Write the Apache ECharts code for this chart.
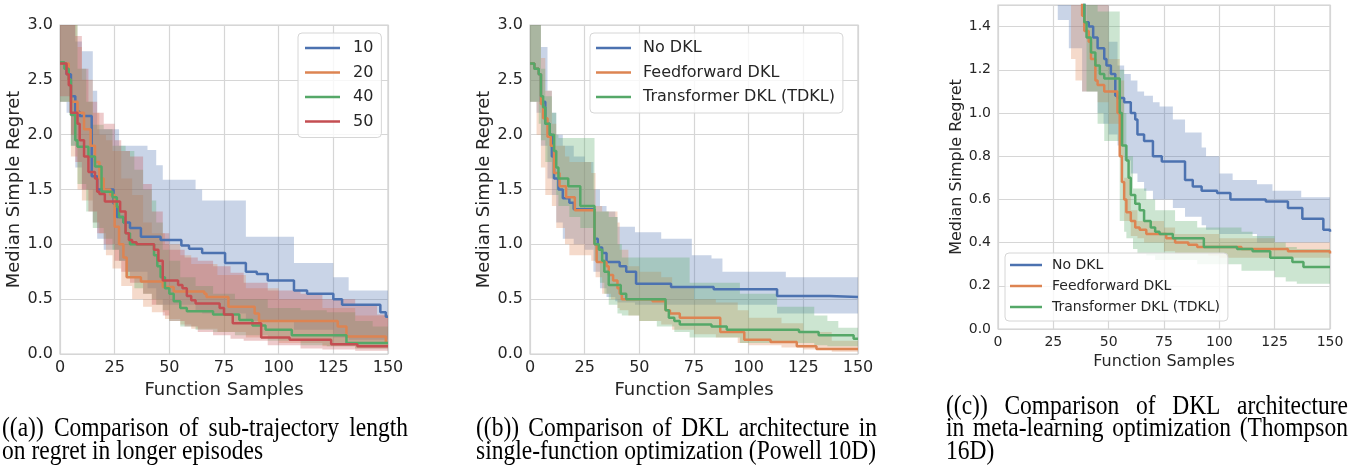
<!DOCTYPE html>
<html>
<head>
<meta charset="utf-8">
<script src="https://cdn.jsdelivr.net/npm/echarts@6/dist/echarts.min.js"></script>
<style>
html, body { margin: 0; padding: 0; background: #fff; }
#chart { width: 1356px; height: 466px; }
</style>
</head>
<body>
<div id="chart"></div>
<script>
// x ticks shared by every panel
var x_ticks = [0, 25, 50, 75, 100, 125, 150];

// ---- panel (a): sub-trajectory length ----
var a_names = ['10', '20', '40', '50'];
// [x, median] steps (value holds until next x)
var a_10_line = [[0,2.65],[3,2.55],[5,2.35],[7,2.21],[9,2.17],[14.5,1.62],[17,1.5],[24.5,1.37],[26,1.25],[29,1.2],[32,1.15],[37,1.07],[46,1.04],[55.5,0.99],[59,0.96],[65,0.92],[75.5,0.83],[85,0.75],[90,0.73],[95,0.67],[107,0.58],[113,0.55],[125,0.5],[129,0.45],[146.5,0.38],[149,0.34],[150,0.34]];
var a_20_line = [[0,2.65],[4,2.5],[5,2.3],[8,2.2],[11,2.05],[14,1.9],[16,1.75],[18,1.6],[20,1.5],[23,1.45],[25,1.16],[27,1.0],[29,0.88],[30.5,0.7],[37,0.66],[47,0.61],[52,0.57],[66,0.55],[67,0.52],[77,0.43],[89,0.37],[91,0.3],[127,0.25],[131,0.16],[149,0.1],[150,0.1]];
var a_40_line = [[0,2.66],[2,2.6],[4,2.5],[5,2.18],[7,1.95],[8,1.89],[13,1.8],[16,1.71],[19,1.48],[24,1.43],[26,1.34],[27,1.25],[29,1.2],[30,1.1],[32,1.0],[43,0.9],[44.5,0.8],[46,0.7],[48,0.6],[50,0.55],[52,0.48],[55,0.42],[58,0.39],[70,0.36],[82,0.31],[88,0.26],[94,0.22],[106,0.17],[131,0.1],[150,0.1]];
var a_50_line = [[0,2.65],[3,2.55],[4,2.45],[5,2.2],[8,2.1],[9,1.95],[11,1.8],[13,1.66],[16,1.6],[17,1.48],[18,1.46],[20.5,1.39],[27.5,1.3],[30,1.1],[31.5,1.04],[33,1.02],[35,1.0],[43,0.95],[45,0.85],[47,0.67],[54,0.63],[56,0.6],[58,0.53],[60,0.49],[62,0.46],[73,0.42],[75,0.36],[79,0.28],[92,0.15],[105,0.13],[124,0.09],[136,0.07],[150,0.07]];
// [x, lower, upper]
var a_10_band = [[0,2.3,3.3],[3,2.2,3.3],[5,1.9,3.1],[7,1.7,2.85],[10,1.5,2.76],[15,1.2,2.4],[17,1.05,2.05],[20,0.95,2.05],[27,0.85,1.9],[30,0.75,1.9],[40,0.6,1.86],[44,0.5,1.72],[47,0.45,1.59],[62,0.4,1.5],[65,0.37,1.4],[85,0.3,1.07],[107,0.22,0.83],[125,0.15,0.7],[132,0.13,0.58],[150,0.12,0.58]];
var a_20_band = [[0,2.3,3.3],[5,1.8,3.1],[8,1.5,2.8],[10,1.4,2.5],[15,1.2,2.2],[18,1.1,2.0],[21,0.9,1.95],[24,0.78,1.85],[28,0.62,1.6],[33,0.5,1.45],[38,0.43,1.2],[42,0.38,1.1],[48,0.32,1.0],[55,0.27,0.9],[60,0.23,0.82],[72,0.2,0.72],[85,0.15,0.6],[100,0.1,0.5],[120,0.07,0.42],[135,0.05,0.35],[150,0.05,0.3]];
var a_40_band = [[0,2.3,3.3],[5,1.9,3.0],[8,1.55,2.6],[12,1.3,2.3],[15,1.15,2.09],[20,1.05,2.05],[24,0.95,1.9],[27,0.85,1.9],[30,0.7,1.85],[34,0.6,1.68],[38,0.55,1.5],[42,0.5,1.4],[44,0.45,1.2],[47,0.4,0.95],[50,0.3,0.85],[55,0.25,0.7],[62,0.22,0.62],[70,0.2,0.55],[80,0.17,0.5],[95,0.12,0.42],[110,0.08,0.4],[122,0.07,0.38],[135,0.05,0.3],[143,0.05,0.25],[150,0.05,0.25]];
var a_50_band = [[0,2.35,3.3],[5,2.0,3.2],[7,1.75,2.9],[10,1.5,2.6],[13,1.3,2.3],[17,1.1,2.2],[20,1.0,2.1],[25,0.85,1.95],[28,0.75,1.85],[32,0.65,1.8],[38,0.55,1.55],[42,0.45,1.3],[47,0.35,1.1],[50,0.3,0.95],[57,0.25,0.88],[63,0.2,0.85],[70,0.17,0.8],[78,0.14,0.74],[84,0.12,0.65],[95,0.08,0.58],[110,0.05,0.55],[120,0.04,0.5],[135,0.03,0.45],[145,0.03,0.36],[150,0.03,0.36]];

// ---- panel (b): single-function optimization ----
var dkl_names = ['No DKL', 'Feedforward DKL', 'Transformer DKL (TDKL)'];
var b_no_line = [[0,2.65],[2,2.6],[4,2.55],[5,2.3],[7,2.1],[9,2.0],[10,1.8],[11,1.6],[13,1.5],[15,1.42],[18,1.38],[20,1.32],[29.5,1.05],[31,0.97],[33,0.92],[35,0.84],[41,0.8],[44,0.75],[48.5,0.64],[64.5,0.61],[84,0.59],[113,0.53],[137,0.52],[150,0.52]];
var b_ff_line = [[0,2.65],[2,2.6],[4,2.55],[5,2.28],[6,2.15],[8,1.98],[9.5,1.9],[11,1.65],[13.5,1.53],[16.5,1.43],[20.5,1.31],[29.5,1.0],[30.5,0.84],[35,0.8],[36,0.72],[38,0.67],[40,0.6],[41,0.55],[42,0.5],[56,0.48],[62,0.4],[64,0.37],[68.5,0.33],[87,0.2],[98,0.13],[110,0.11],[122,0.07],[131,0.045],[150,0.04]];
var b_td_line = [[0,2.65],[2,2.6],[4,2.55],[5,2.35],[6,2.25],[7,2.1],[9,2.0],[11,1.85],[12,1.7],[13,1.6],[17.5,1.53],[23,1.35],[29.5,1.0],[31.5,0.95],[33,0.85],[34,0.75],[36,0.63],[41.5,0.55],[44,0.5],[62,0.4],[63.5,0.33],[66,0.3],[68.5,0.27],[83,0.25],[90,0.22],[123,0.2],[132,0.17],[148,0.14],[150,0.14]];
var b_no_band = [[0,2.3,3.3],[3,2.2,3.2],[5,1.9,2.8],[8,1.6,2.4],[10,1.45,2.2],[12,1.2,2.0],[15,1.05,1.9],[20,1.0,1.8],[25,0.95,1.75],[29,0.75,1.5],[32,0.6,1.35],[35,0.52,1.3],[39,0.48,1.25],[40,0.47,1.16],[48,0.45,1.11],[60,0.45,1.05],[74,0.45,0.9],[83,0.45,0.87],[88,0.45,0.75],[113,0.37,0.75],[117,0.37,0.7],[150,0.37,0.7]];
var b_ff_band = [[0,2.3,3.3],[3,2.0,3.1],[5,1.7,2.7],[7,1.45,2.4],[10,1.35,2.1],[12,1.15,1.9],[16,1.0,1.8],[18,0.9,1.75],[28,0.85,1.65],[30,0.7,1.35],[33,0.55,1.3],[37,0.5,1.3],[40,0.42,1.2],[41,0.4,0.95],[45,0.35,0.8],[50,0.3,0.75],[60,0.27,0.7],[65,0.22,0.6],[75,0.18,0.5],[85,0.15,0.47],[95,0.1,0.4],[100,0.08,0.33],[115,0.06,0.28],[125,0.04,0.2],[138,0.02,0.12],[150,0.02,0.1]];
var b_td_band = [[0,2.3,3.3],[4,2.1,3.1],[5,1.95,2.6],[7,1.75,2.35],[10,1.6,2.2],[12,1.45,2.0],[13,1.35,1.97],[18,1.25,1.97],[23,1.15,1.97],[29.5,0.85,1.3],[32,0.65,1.3],[34,0.55,1.3],[36,0.45,1.25],[40,0.37,1.0],[42,0.35,0.88],[50,0.3,0.88],[58,0.25,0.88],[66,0.2,0.88],[73,0.15,0.65],[96,0.1,0.55],[113,0.1,0.43],[130,0.08,0.35],[136,0.07,0.3],[141,0.07,0.24],[150,0.07,0.24]];

// ---- panel (c): meta-learning optimization ----
var c_no_line = [[0,2.65],[15,2.2],[30,1.8],[36,1.55],[39,1.42],[41,1.4],[43,1.35],[45,1.3],[48,1.25],[49,1.22],[51,1.18],[53,1.08],[54,1.07],[57,1.05],[60,1.0],[62,0.97],[63,0.9],[66,0.87],[70,0.8],[74,0.775],[84.5,0.69],[88,0.66],[92,0.64],[99,0.63],[105,0.6],[121,0.59],[131,0.56],[137.5,0.51],[147,0.46],[150,0.45]];
var c_ff_line = [[0,2.65],[15,2.2],[30,1.8],[36,1.6],[38,1.45],[39,1.38],[41,1.33],[42,1.25],[44,1.15],[45,1.13],[48,1.1],[54,1.0],[55,0.8],[56,0.68],[57,0.6],[58,0.54],[60,0.5],[62,0.47],[64,0.46],[67,0.44],[76,0.42],[80,0.4],[86,0.39],[90,0.38],[110,0.37],[131,0.36],[150,0.35]];
var c_td_line = [[0,2.65],[15,2.2],[30,1.8],[37,1.55],[39,1.42],[40,1.35],[42,1.28],[44,1.22],[46,1.18],[48,1.16],[55,1.0],[56,0.85],[58,0.78],[59,0.7],[60,0.62],[62,0.58],[64,0.55],[66,0.5],[69,0.47],[71,0.45],[73,0.44],[79,0.42],[93,0.38],[108,0.37],[115,0.36],[123,0.33],[133,0.31],[138,0.287],[150,0.287]];
var c_no_band = [[0,2.3,3],[27,1.43,3],[32,1.3,3],[38,1.1,3],[45,1.0,3],[47.7,0.95,1.5],[50,0.9,1.33],[54,0.85,1.22],[57,0.78,1.18],[60,0.72,1.15],[63,0.68,1.1],[66,0.64,1.08],[70,0.6,1.05],[73,0.6,1.03],[79,0.56,0.97],[84.5,0.52,0.91],[92,0.48,0.84],[94,0.46,0.8],[100,0.44,0.72],[106,0.44,0.69],[117,0.4,0.67],[124,0.4,0.64],[137,0.4,0.61],[150,0.4,0.61]];
var c_ff_band = [[0,2.3,3],[30,1.5,3],[33,1.25,3],[35,1.15,3],[38,1.1,1.5],[45,1.05,1.5],[50,0.95,1.25],[55,0.8,1.15],[57,0.5,0.7],[60,0.43,0.55],[63,0.42,0.5],[66,0.4,0.5],[75,0.36,0.47],[80,0.35,0.44],[95,0.34,0.44],[100,0.33,0.42],[125,0.33,0.4],[150,0.32,0.4]];
var c_td_band = [[0,2.3,3],[35,1.5,3],[40,1.1,3],[45,0.95,1.47],[48,0.87,1.47],[55,0.5,1.2],[57,0.45,1.0],[58,0.42,0.8],[61,0.37,0.65],[63,0.35,0.65],[67,0.34,0.6],[71,0.32,0.55],[80,0.32,0.5],[90,0.3,0.47],[100,0.3,0.47],[110,0.27,0.45],[115,0.27,0.43],[125,0.24,0.4],[130,0.22,0.38],[135,0.21,0.37],[150,0.21,0.37]];

var captions = [
    { x: 2, width: 406, lines: ['((a)) Comparison of sub-trajectory length', 'on regret in longer episodes'], first: 443 },
    { x: 476, width: 401, lines: ['((b)) Comparison of DKL architecture in', 'single-function optimization (Powell 10D)'], first: 443 },
    { x: 946, width: 402, lines: ['((c)) Comparison of DKL architecture', 'in meta-learning optimization (Thompson', '16D)'], first: 420.5 }
];

var colors = ['#4c72b0', '#dd8452', '#55a868', '#c44e52'];
var ink = '#262626';
var font = 'DejaVu Sans';

function band_series(name, data, color, idx, ymax)
{
    return {
        type: 'custom',
        name: name,
        xAxisIndex: idx,
        yAxisIndex: idx,
        silent: true,
        clip: true,
        z: 1,
        data: [[data[0][0], Math.min(data[0][1], ymax)]],
        renderItem: function (params, api) {
            var top = [], bottom = [];
            for (var i = 0; i < data.length; i++) {
                var x0 = data[i][0];
                var x1 = i + 1 < data.length ? data[i + 1][0] : data[i][0];
                var lo = Math.min(data[i][1], ymax);
                var hi = Math.min(data[i][2], ymax);
                top.push(api.coord([x0, hi]), api.coord([x1, hi]));
                bottom.push(api.coord([x0, lo]), api.coord([x1, lo]));
            }
            bottom.reverse();
            return {
                type: 'polygon',
                shape: { points: top.concat(bottom) },
                style: { fill: color, opacity: 0.3 }
            };
        }
    };
}

function line_series(name, data, color, idx)
{
    return {
        type: 'line',
        name: name,
        xAxisIndex: idx,
        yAxisIndex: idx,
        data: data,
        step: 'end',
        symbol: 'none',
        z: 3,
        lineStyle: { color: color, width: 2.5 },
        itemStyle: { color: color }
    };
}

function x_axis(idx, fs, gap)
{
    return {
        type: 'value', gridIndex: idx, min: 0, max: 150, interval: 25,
        name: 'Function Samples', nameLocation: 'middle', nameGap: gap,
        nameTextStyle: { fontSize: Math.round(fs * 1.125), color: ink, fontFamily: font },
        axisLine: { show: false }, axisTick: { show: false },
        axisLabel: { fontSize: fs, color: ink, fontFamily: font, margin: 6,
            formatter: function (v) { return x_ticks.indexOf(v) >= 0 ? String(v) : ''; } },
        splitLine: { lineStyle: { color: '#d6d6d6', width: 1.2 } }
    };
}

function y_axis(idx, fs, gap, max, step)
{
    return {
        type: 'value', gridIndex: idx, min: 0, max: max, interval: step,
        name: 'Median Simple Regret', nameLocation: 'middle', nameGap: gap,
        nameTextStyle: { fontSize: Math.round(fs * 1.125), color: ink, fontFamily: font },
        axisLine: { show: false }, axisTick: { show: false },
        axisLabel: { fontSize: fs, color: ink, fontFamily: font, margin: 7, showMaxLabel: max === 3,
            formatter: function (v) { return v.toFixed(1); } },
        splitLine: { lineStyle: { color: '#d6d6d6', width: 1.2 } }
    };
}

function legend_box(names, left, top, fs, lineW, gap, textPad, padding)
{
    return {
        data: names, orient: 'vertical', left: left, top: top,
        icon: 'rect', itemWidth: lineW, itemHeight: 2.5, itemGap: gap,
        padding: padding,
        backgroundColor: 'rgba(255,255,255,0.8)',
        borderColor: '#d6d6d6', borderWidth: 1, borderRadius: 4,
        selectedMode: false,
        textStyle: { fontSize: fs, lineHeight: fs, color: ink, fontFamily: font, padding: [0, 0, 0, textPad] }
    };
}

// captions: justified lines, measured with a canvas
function caption_graphics()
{
    var fsz = 23.5;
    var ctx = document.createElement('canvas').getContext('2d');
    ctx.font = fsz + 'px "Liberation Serif"';
    var els = [];
    captions.forEach(function (cap) {
        cap.lines.forEach(function (line, li) {
            var words = line.split(' ');
            var widths = words.map(function (w) { return ctx.measureText(w).width; });
            var total = widths.reduce(function (s, w) { return s + w; }, 0);
            var last = li === cap.lines.length - 1;
            var gap = last || words.length < 2 ? ctx.measureText(' ').width : (cap.width - total) / (words.length - 1);
            var x = cap.x;
            var y = cap.first + li * 22.5;
            words.forEach(function (w, wi) {
                els.push({
                    type: 'text', x: x, y: y, scaleY: 1.12, silent: true,
                    style: { text: w, fill: '#000', font: fsz + 'px "Liberation Serif"', verticalAlign: 'bottom' }
                });
                x += widths[wi] + gap;
            });
        });
    });
    return els;
}

var series = [];
var a_lines = [a_10_line, a_20_line, a_40_line, a_50_line];
var a_bands = [a_10_band, a_20_band, a_40_band, a_50_band];
for (var i = 0; i < 4; i++)
    series.push(band_series('a band ' + a_names[i], a_bands[i], colors[i], 0, 3));
for (var i = 0; i < 4; i++)
    series.push(line_series(a_names[i], a_lines[i], colors[i], 0));

var b_lines = [b_no_line, b_ff_line, b_td_line];
var b_bands = [b_no_band, b_ff_band, b_td_band];
var c_lines = [c_no_line, c_ff_line, c_td_line];
var c_bands = [c_no_band, c_ff_band, c_td_band];
for (var i = 0; i < 3; i++) {
    series.push(band_series('b band ' + i, b_bands[i], colors[i], 1, 3));
    series.push(band_series('c band ' + i, c_bands[i], colors[i], 2, 1.5));
}
for (var i = 0; i < 3; i++) {
    series.push(line_series(dkl_names[i], b_lines[i], colors[i], 1));
    series.push(line_series(dkl_names[i], c_lines[i], colors[i], 2));
}

var chart = echarts.init(document.getElementById('chart'), null, { renderer: 'canvas' });
chart.setOption({
    animation: false,
    backgroundColor: '#ffffff',
    textStyle: { fontFamily: font },
    grid: [
        { left: 60, top: 25, width: 328, height: 329, show: true, borderColor: '#d0d0d0', borderWidth: 1.2 },
        { left: 530, top: 25, width: 328, height: 329, show: true, borderColor: '#d0d0d0', borderWidth: 1.2 },
        { left: 998, top: 5, width: 332, height: 324, show: true, borderColor: '#d0d0d0', borderWidth: 1.2 }
    ],
    xAxis: [x_axis(0, 16, 22), x_axis(1, 16, 22), x_axis(2, 14, 20)],
    yAxis: [y_axis(0, 16, 35, 3, 0.5), y_axis(1, 16, 35, 3, 0.5), y_axis(2, 14, 33, 1.5, 0.2)],
    legend: [
        legend_box(a_names, 298, 33, 16, 35, 8.5, 8, [7, 8, 8, 7]),
        legend_box(dkl_names, 590, 33, 16, 35, 8.5, 7, [7, 8, 8, 6]),
        legend_box(dkl_names, 1005, 253, 14, 32, 7, 5, [5, 8, 7, 5])
    ],
    graphic: caption_graphics(),
    series: series
});
</script>
</body>
</html>
